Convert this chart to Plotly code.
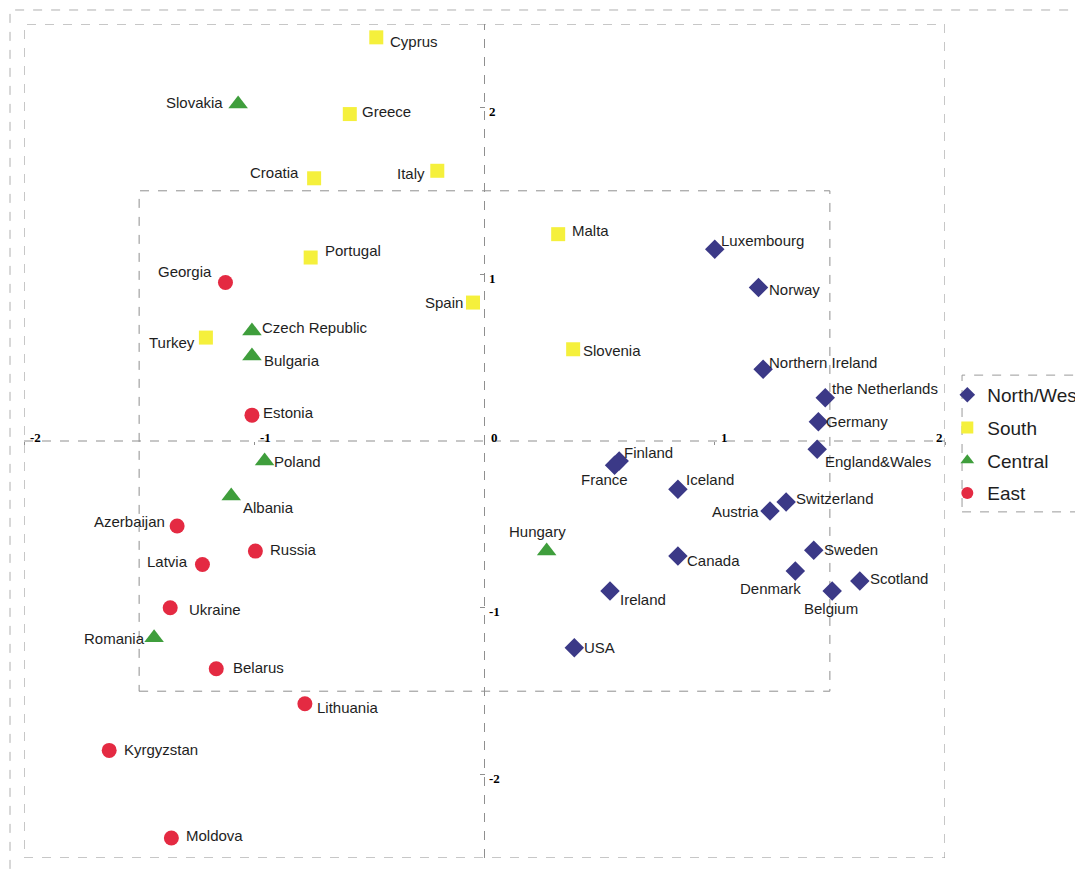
import plotly.graph_objects as go

# ---- data ----
nw_names = ["Luxembourg", "Norway", "Northern Ireland", "the Netherlands", "Germany",
            "England&Wales", "Finland", "France", "Iceland", "Switzerland", "Austria",
            "Canada", "Sweden", "Denmark", "Scotland", "Belgium", "Ireland", "USA"]
nw_x = [1.00, 1.19, 1.21, 1.48, 1.45, 1.445, 0.585, 0.565, 0.84, 1.31, 1.24,
        0.84, 1.43, 1.35, 1.63, 1.51, 0.545, 0.39]
nw_y = [1.15, 0.92, 0.43, 0.26, 0.115, -0.05, -0.12, -0.145, -0.29, -0.365, -0.42,
        -0.69, -0.655, -0.78, -0.84, -0.90, -0.90, -1.24]

south_names = ["Cyprus", "Greece", "Croatia", "Italy", "Portugal", "Spain", "Turkey",
               "Malta", "Slovenia"]
south_x = [-0.47, -0.585, -0.74, -0.205, -0.755, -0.05, -1.21, 0.32, 0.385]
south_y = [2.42, 1.96, 1.575, 1.62, 1.10, 0.83, 0.62, 1.24, 0.55]

central_names = ["Slovakia", "Czech Republic", "Bulgaria", "Poland", "Albania",
                 "Hungary", "Romania"]
central_x = [-1.07, -1.01, -1.01, -0.955, -1.10, 0.27, -1.435]
central_y = [2.02, 0.66, 0.51, -0.12, -0.33, -0.66, -1.18]

east_names = ["Georgia", "Estonia", "Azerbaijan", "Russia", "Latvia", "Ukraine",
              "Belarus", "Lithuania", "Kyrgyzstan", "Moldova"]
east_x = [-1.125, -1.01, -1.335, -0.995, -1.225, -1.365, -1.165, -0.78, -1.63, -1.36]
east_y = [0.95, 0.155, -0.51, -0.66, -0.74, -1.0, -1.365, -1.575, -1.855, -2.38]

xtick_vals = [-2, -1, 0, 1, 2]
ytick_vals = [-2, -1, 1, 2]

# label placement (style only): anchor, x pixel offset, y pixel offset (up = +)
label_pos = {
    "Cyprus": ("left", 12, -4), "Greece": ("left", 10, 3), "Croatia": ("right", -13, 6),
    "Italy": ("right", -10, -3), "Portugal": ("left", 12, 7), "Spain": ("right", -8, 0),
    "Turkey": ("right", -9, -5), "Malta": ("left", 12, 4), "Slovenia": ("left", 8, -1),
    "Slovakia": ("right", -13, 2), "Czech Republic": ("left", 8, 3),
    "Bulgaria": ("left", 10, -5), "Poland": ("left", 7, 0), "Albania": ("left", 10, -11),
    "Hungary": ("center", -9, 20), "Romania": ("right", -7, -1),
    "Georgia": ("right", -11, 11), "Estonia": ("left", 9, 3), "Azerbaijan": ("right", -10, 5),
    "Russia": ("left", 13, 2), "Latvia": ("right", -12, 3), "Ukraine": ("left", 17, -2),
    "Belarus": ("left", 15, 1), "Lithuania": ("left", 10, -4), "Kyrgyzstan": ("left", 13, 1),
    "Moldova": ("left", 13, 2),
    "Luxembourg": ("left", 4, 9), "Norway": ("left", 8, -2), "Northern Ireland": ("left", 4, 7),
    "the Netherlands": ("left", 5, 9), "Germany": ("left", 6, 0),
    "England&Wales": ("left", 6, -12), "Finland": ("left", 3, 9), "France": ("center", -10, -14),
    "Iceland": ("left", 6, 10), "Switzerland": ("left", 8, 3), "Austria": ("right", -9, 0),
    "Canada": ("left", 7, -4), "Sweden": ("left", 8, 1), "Denmark": ("right", 8, -17),
    "Scotland": ("left", 8, 3), "Belgium": ("center", -1, -17), "Ireland": ("left", 8, -8),
    "USA": ("left", 8, 0),
}

FONT = "Liberation Sans, Arial, sans-serif"
SERIF = "Liberation Serif, Times New Roman, serif"
GRID = "#8f8f8f"

fig = go.Figure()
annotations = []

def add_group(name, xs, ys, names, symbol, color, size):
    fig.add_trace(go.Scatter(
        x=xs, y=ys, mode="markers", name=name, legendgroup=name,
        marker=dict(symbol=symbol, color=color, size=size, line=dict(width=0)),
        cliponaxis=False,
    ))
    for xv, yv, n in zip(xs, ys, names):
        anc, dx, dy = label_pos[n]
        annotations.append(dict(
            x=xv, y=yv, xref="x", yref="y", text=n, showarrow=False,
            xanchor=anc, yanchor="middle", xshift=dx, yshift=dy,
            font=dict(family=FONT, size=15, color="#1e1e1e"),
        ))

add_group("North/West", nw_x, nw_y, nw_names, "diamond", "#3b3987", 15)
add_group("South", south_x, south_y, south_names, "square", "#f5f03c", 14)
add_group("Central", central_x, central_y, central_names, "triangle-up", "#3f9e3c", 17)
add_group("East", east_x, east_y, east_names, "circle", "#e42a42", 15)

# axis tick labels next to the crossing axes
for v in xtick_vals:
    annotations.append(dict(
        x=v, y=0, xref="x", yref="y", text=str(v), showarrow=False,
        xanchor="right" if v == xtick_vals[-1] else "left", yanchor="middle",
        xshift=0 if v == xtick_vals[-1] else 4, yshift=4,
        font=dict(family=SERIF, size=13, color="black", weight="bold"),
    ))
for v in ytick_vals:
    annotations.append(dict(
        x=0, y=v, xref="x", yref="y", text=str(v), showarrow=False,
        xanchor="left", yanchor="middle", xshift=2, yshift=-4,
        font=dict(family=SERIF, size=13, color="black", weight="bold"),
    ))

shapes = [
    dict(type="line", xref="x", yref="y", x0=-2, x1=2, y0=0, y1=0,
         line=dict(color=GRID, width=1, dash="dash"), layer="below"),
    dict(type="line", xref="x", yref="y", x0=0, x1=0, y0=-2.5, y1=2.5,
         line=dict(color=GRID, width=1, dash="dash"), layer="below"),
    dict(type="rect", xref="x", yref="y", x0=-2, x1=2, y0=-2.5, y1=2.5,
         line=dict(color=GRID, width=1, dash="dash"), layer="below"),
    dict(type="rect", xref="x", yref="y", x0=-1.5, x1=1.5, y0=-1.5, y1=1.5,
         line=dict(color=GRID, width=1, dash="dash"), layer="below"),
    # page border
    dict(type="rect", xref="paper", yref="paper", x0=-0.0152, x1=1.2, y0=-0.05, y1=1.0168,
         line=dict(color="#b0b0b0", width=1, dash="dash"), layer="below"),
    # legend border
    dict(type="rect", xref="paper", yref="paper", x0=1.0185, x1=1.2, y0=0.415, y1=0.579,
         line=dict(color="#9a9a9a", width=1, dash="dash"), layer="below"),
]

fig.update_layout(
    width=1075, height=862,
    margin=dict(l=16, r=138, t=16, b=12, autoexpand=False),
    paper_bgcolor="white", plot_bgcolor="white",
    showlegend=True,
    legend=dict(x=1.0025, y=0.578, xanchor="left", yanchor="top",
                font=dict(family=FONT, size=19, color="#1e1e1e"),
                bgcolor="rgba(0,0,0,0)", borderwidth=0, itemsizing="constant",
                itemwidth=30, traceorder="grouped", tracegroupgap=5),
    shapes=shapes,
    annotations=annotations,
    xaxis=dict(range=[-2, 2], showgrid=False, zeroline=False, showline=False,
               tickvals=xtick_vals, showticklabels=False,
               anchor="free", position=0.5, ticks="outside", ticklen=3, tickcolor=GRID,
               fixedrange=True),
    yaxis=dict(range=[-2.5, 2.5], showgrid=False, zeroline=False, showline=False,
               tickvals=ytick_vals, showticklabels=False,
               anchor="free", position=0.5, ticks="outside", ticklen=5, tickcolor=GRID,
               fixedrange=True),
)

fig.write_html("out.html")
